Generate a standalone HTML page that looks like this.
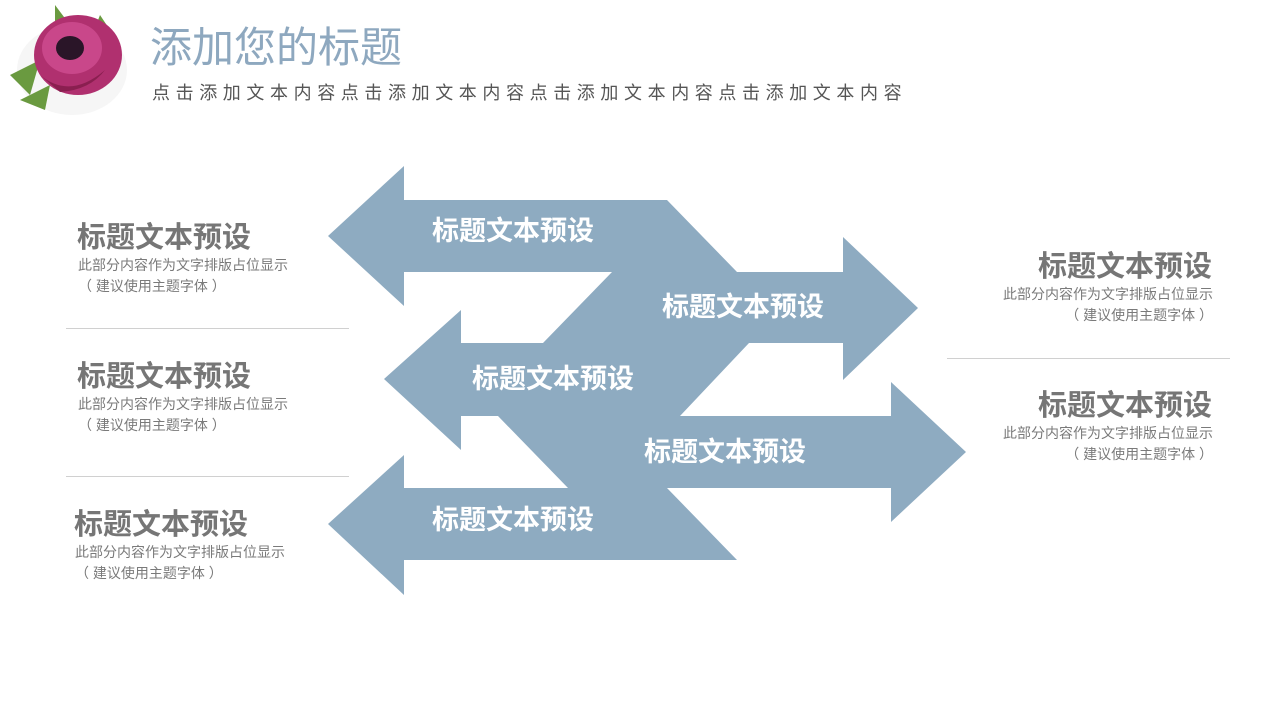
<!DOCTYPE html>
<html><head><meta charset="utf-8"><style>
body{margin:0;width:1280px;height:720px;background:#fff;position:relative;overflow:hidden;font-family:"Liberation Sans","Noto Sans CJK SC",sans-serif}
.t{position:absolute;white-space:nowrap}
.h{font-size:29px;font-weight:bold;color:#767676;line-height:30px}
.d{font-size:14px;color:#7a7a7a;line-height:21px}
.r{text-align:right}
.ln{position:absolute;height:1px;background:#d0d0d0}
</style></head><body>
<svg width="1280" height="720" style="position:absolute;left:0;top:0">
<g>
<ellipse cx="72" cy="70" rx="55" ry="45" fill="#eee" opacity=".5"/>
<path d="M10,75 L40,60 L30,95 Z M20,100 L50,85 L45,110 Z M55,5 L70,25 L55,30 Z M100,15 L110,30 L95,28 Z" fill="#6a9a40"/>
<ellipse cx="78" cy="55" rx="44" ry="40" fill="#b0306f"/>
<ellipse cx="72" cy="48" rx="30" ry="26" fill="#c9478a"/>
<ellipse cx="70" cy="48" rx="14" ry="12" fill="#2a1528"/>
<path d="M40,75 Q70,100 105,70 Q90,90 60,92 Z" fill="#8a1f50"/>
</g>
<g fill="#8eabc1">
<polygon points="328,236 404,166 404,200 667,200 737,272 404,272 404,306"/>
<polygon points="612,272 843,272 843,237 918,308 843,380 843,343 543,343"/>
<polygon points="384,379 461,310 461,343 749,343 680,416 461,416 461,450"/>
<polygon points="498,416 891,416 891,382 966,452 891,522 891,488 568,488"/>
<polygon points="328,524 404,455 404,488 667,488 737,560 404,560 404,595"/>
</g>
<g fill="#fff" font-size="27" font-weight="bold" text-anchor="middle" font-family="Liberation Sans,Noto Sans CJK SC,sans-serif">
<text x="513" y="240">标题文本预设</text>
<text x="743" y="316">标题文本预设</text>
<text x="553" y="388">标题文本预设</text>
<text x="725" y="461">标题文本预设</text>
<text x="513" y="529">标题文本预设</text>
</g>
</svg>
<div class="t" style="left:150px;top:22px;font-size:42px;color:#8ea8bf;line-height:52px">添加您的标题</div>
<div class="t" style="left:152px;top:81px;font-size:18px;color:#555;letter-spacing:5.6px;line-height:24px">点击添加文本内容点击添加文本内容点击添加文本内容点击添加文本内容</div>

<div class="t h" style="left:77px;top:223px">标题文本预设</div>
<div class="t d" style="left:78px;top:255px">此部分内容作为文字排版占位显示<br>（ 建议使用主题字体 ）</div>
<div class="ln" style="left:66px;top:328px;width:283px"></div>
<div class="t h" style="left:77px;top:362px">标题文本预设</div>
<div class="t d" style="left:78px;top:394px">此部分内容作为文字排版占位显示<br>（ 建议使用主题字体 ）</div>
<div class="ln" style="left:66px;top:476px;width:283px"></div>
<div class="t h" style="left:74px;top:510px">标题文本预设</div>
<div class="t d" style="left:75px;top:542px">此部分内容作为文字排版占位显示<br>（ 建议使用主题字体 ）</div>

<div class="t h r" style="right:68px;top:252px">标题文本预设</div>
<div class="t d r" style="right:67px;top:284px">此部分内容作为文字排版占位显示<br>（ 建议使用主题字体 ）</div>
<div class="ln" style="left:947px;top:358px;width:283px"></div>
<div class="t h r" style="right:68px;top:391px">标题文本预设</div>
<div class="t d r" style="right:67px;top:423px">此部分内容作为文字排版占位显示<br>（ 建议使用主题字体 ）</div>
</body></html>
